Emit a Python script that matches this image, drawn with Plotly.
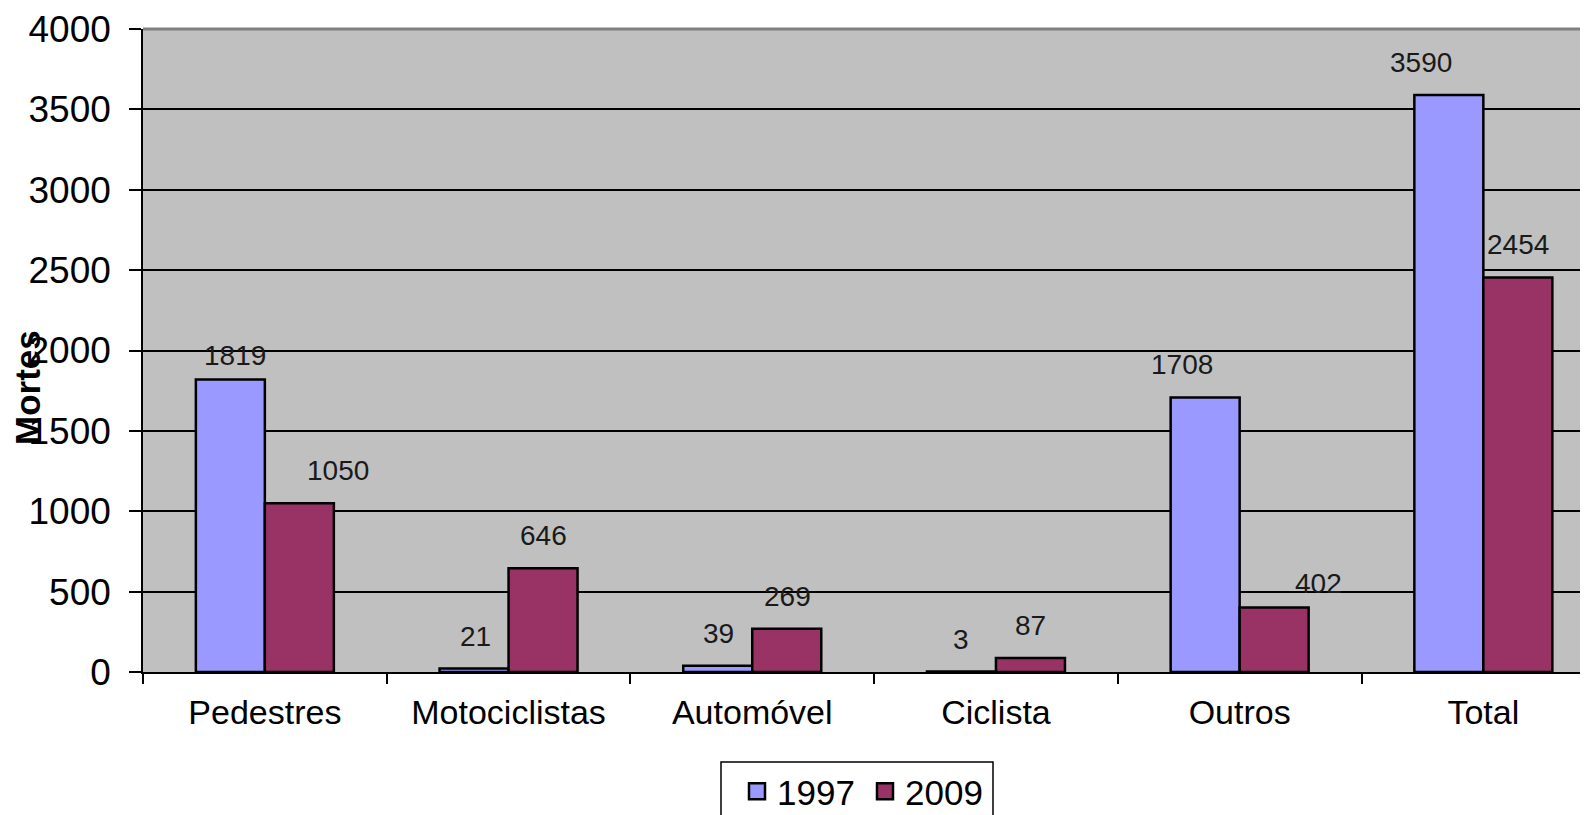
import plotly.graph_objects as go

categories = ["Pedestres", "Motociclistas", "Automóvel", "Ciclista", "Outros", "Total"]
values_1997 = [1819, 21, 39, 3, 1708, 3590]
values_2009 = [1050, 646, 269, 87, 402, 2454]
y_ticks = [0, 500, 1000, 1500, 2000, 2500, 3000, 3500, 4000]

# label style offsets (pixels) to mimic original placement
shift_1997 = [5, 1, 1, 0, -23, -28]
shift_2009 = [39, 0, 1, 0, 44, 0]
vshift_1997 = [7, 15, 15, 15, 15, 15]
vshift_2009 = [15, 15, 15, 15, 6, 16]

FONT = "Liberation Sans, Arial, sans-serif"
OFF = 8  # default page body margin
W, H = 1588 - OFF, 815 - OFF
L, T, B = 143 - OFF, 29 - OFF, 143
plot_w = W - L
plot_h = H - T - B
cat_px = 243.7
bar_px = 69
colors = {"1997": "#9999FF", "2009": "#993366"}


def px_x(page_x):
    return (page_x - OFF - L) / plot_w


def px_y(page_y):
    return (H - B - (page_y - OFF)) / plot_h


fig = go.Figure()
fig.add_trace(go.Bar(name="1997", x=categories, y=values_1997, showlegend=False, legendgroup="1997",
                     marker=dict(color=colors["1997"], line=dict(color="black", width=2.5))))
fig.add_trace(go.Bar(name="2009", x=categories, y=values_2009, showlegend=False, legendgroup="2009",
                     marker=dict(color=colors["2009"], line=dict(color="black", width=2.5))))
for name in ["1997", "2009"]:
    fig.add_trace(go.Scatter(name=name, x=[None], y=[None], mode="markers", legendgroup=name,
                             marker=dict(symbol="square", size=16, color=colors[name],
                                         line=dict(color="black", width=2.5))))

anns = []
for i, c in enumerate(categories):
    anns.append(dict(x=c, y=values_1997[i], xref="x", yref="y", text=str(values_1997[i]),
                     showarrow=False, yanchor="bottom", xanchor="center",
                     xshift=-bar_px / 2 + shift_1997[i], yshift=vshift_1997[i],
                     font=dict(family=FONT, size=28, color="#1a1a1a")))
    anns.append(dict(x=c, y=values_2009[i], xref="x", yref="y", text=str(values_2009[i]),
                     showarrow=False, yanchor="bottom", xanchor="center",
                     xshift=bar_px / 2 + shift_2009[i], yshift=vshift_2009[i],
                     font=dict(family=FONT, size=28, color="#1a1a1a")))

anns.append(dict(x=px_x(28), y=px_y(388), xref="paper", yref="paper",
                 text="<b>Mortes</b>", textangle=-90, showarrow=False,
                 xanchor="center", yanchor="middle",
                 font=dict(family=FONT, size=35, color="black")))

fig.update_layout(
    width=W, height=H,
    margin=dict(l=L, r=0, t=T, b=B, autoexpand=False),
    paper_bgcolor="white",
    plot_bgcolor="#C0C0C0",
    barmode="group",
    bargap=1 - 2 * bar_px / cat_px,
    bargroupgap=0,
    font=dict(family=FONT, size=34, color="black"),
    showlegend=True,
    legend=dict(orientation="h", x=px_x(737), xanchor="left",
                y=px_y(762), yanchor="top",
                borderwidth=0, bgcolor="rgba(0,0,0,0)",
                font=dict(family=FONT, size=35, color="black"),
                itemwidth=30, tracegroupgap=0, entrywidth=83, entrywidthmode="pixels"),
    annotations=anns,
    shapes=[dict(type="line", xref="paper", yref="paper", x0=0, x1=1, y0=1, y1=1,
                 line=dict(color="#808080", width=3)),
            dict(type="rect", xref="paper", yref="paper", x0=px_x(721), x1=px_x(993),
                 y0=px_y(762), y1=px_y(840), line=dict(color="black", width=1.5),
                 fillcolor="white")],
    xaxis=dict(range=[-0.5, -0.5 + plot_w / cat_px], showline=True, linecolor="black",
               linewidth=1.5, ticks="outside", tickson="boundaries", ticklen=10,
               tickcolor="black", tickwidth=1.5, showgrid=False, automargin=False,
               tickfont=dict(family=FONT, size=34, color="black"), ticklabelstandoff=9),
    yaxis=dict(range=[0, 4000], tickvals=y_ticks, showline=True, linecolor="black",
               linewidth=1.5, ticks="outside", ticklen=12, tickcolor="black", tickwidth=1.5,
               showgrid=True, gridcolor="black", gridwidth=1.5, zeroline=False, automargin=False,
               tickfont=dict(family=FONT, size=37, color="black"), ticklabelstandoff=11),
)

fig.write_html("out.html")
